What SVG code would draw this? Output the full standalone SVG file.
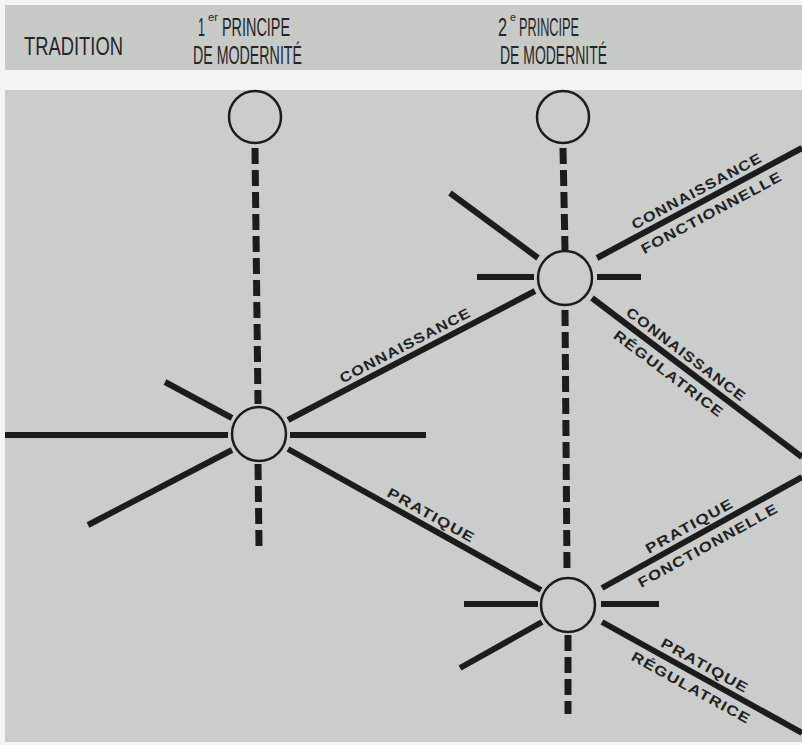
<svg xmlns="http://www.w3.org/2000/svg" width="802" height="745" viewBox="0 0 802 745">
<style>
.hd{font-family:"Liberation Sans Narrow","Liberation Sans",Arial,sans-serif;font-size:26px;fill:#262626}
.sup{font-family:"Liberation Sans Narrow","Liberation Sans",Arial,sans-serif;font-size:11px;fill:#262626}
.lb{font-family:"Liberation Sans",Arial,sans-serif;font-size:14px;font-weight:bold;letter-spacing:1px;fill:#222;text-anchor:middle}
.ln{stroke:#1c1c1c;stroke-width:6;fill:none}
.ds{stroke:#1c1c1c;stroke-width:7;stroke-dasharray:16 6;fill:none}
.nd{stroke:#1c1c1c;stroke-width:2.5;fill:none}
</style>
<rect x="0" y="0" width="802" height="745" fill="#f3f5f5"/>
<rect x="5" y="5" width="797" height="65" fill="#c7cac7"/>
<rect x="5" y="90" width="797" height="652" fill="#cacdcb"/>

<g id="header">
<text class="hd" x="24" y="55" textLength="99" lengthAdjust="spacingAndGlyphs">TRADITION</text>
<text class="hd" x="198" y="36" textLength="7" lengthAdjust="spacingAndGlyphs">1</text>
<text class="sup" x="208" y="21" textLength="10" lengthAdjust="spacingAndGlyphs">er</text>
<text class="hd" x="222" y="36" textLength="68" lengthAdjust="spacingAndGlyphs">PRINCIPE</text>
<text class="hd" x="193" y="64" textLength="109" lengthAdjust="spacingAndGlyphs">DE MODERNITÉ</text>
<text class="hd" x="498" y="36" textLength="9" lengthAdjust="spacingAndGlyphs">2</text>
<text class="sup" x="510" y="21" textLength="6" lengthAdjust="spacingAndGlyphs">e</text>
<text class="hd" x="519" y="36" textLength="60" lengthAdjust="spacingAndGlyphs">PRINCIPE</text>
<text class="hd" x="500" y="64" textLength="107" lengthAdjust="spacingAndGlyphs">DE MODERNITÉ</text>
</g>

<g id="connectors">
<line class="ds" x1="255" y1="148" x2="258" y2="404"/>
<line class="ds" x1="258" y1="464" x2="259" y2="546"/>
<line class="ds" x1="563" y1="148" x2="565" y2="250"/>
<line class="ds" x1="565" y1="310" x2="567" y2="570"/>
<line class="ds" x1="568" y1="635" x2="568" y2="714"/>

<line class="ln" x1="5" y1="435" x2="228" y2="435"/>
<line class="ln" x1="290" y1="435" x2="426" y2="435"/>
<line class="ln" x1="165" y1="382" x2="232" y2="418"/>
<line class="ln" x1="88" y1="525" x2="232" y2="450"/>
<line class="ln" x1="288" y1="420" x2="535" y2="291"/>
<line class="ln" x1="288" y1="449" x2="541" y2="590"/>

<line class="ln" x1="450" y1="193" x2="538" y2="258"/>
<line class="ln" x1="477" y1="277" x2="534" y2="277"/>
<line class="ln" x1="597" y1="277" x2="641" y2="277"/>
<line class="ln" x1="597" y1="258" x2="802" y2="148"/>
<line class="ln" x1="592" y1="298" x2="802" y2="457"/>

<line class="ln" x1="464" y1="604" x2="538" y2="604"/>
<line class="ln" x1="601" y1="604" x2="659" y2="604"/>
<line class="ln" x1="460" y1="668" x2="542" y2="622"/>
<line class="ln" x1="602" y1="588" x2="802" y2="477"/>
<line class="ln" x1="602" y1="622" x2="802" y2="733"/>

<g transform="translate(410.8,355.8) rotate(-27.6)"><text class="lb" x="0" y="-7" textLength="146" lengthAdjust="spacingAndGlyphs">CONNAISSANCE</text></g>
<g transform="translate(425.4,525.6) rotate(29.1)"><text class="lb" x="0" y="-7" textLength="98" lengthAdjust="spacingAndGlyphs">PRATIQUE</text></g>
<g transform="translate(702.3,201.5) rotate(-28.2)"><text class="lb" x="0" y="-7" textLength="146" lengthAdjust="spacingAndGlyphs">CONNAISSANCE</text></g>
<g transform="translate(704.9,200.1) rotate(-28.2)"><text class="lb" x="0" y="19" textLength="158" lengthAdjust="spacingAndGlyphs">FONCTIONNELLE</text></g>
<g transform="translate(679.1,363.9) rotate(37.1)"><text class="lb" x="0" y="-7" textLength="146" lengthAdjust="spacingAndGlyphs">CONNAISSANCE</text></g>
<g transform="translate(677.3,362.5) rotate(37.1)"><text class="lb" x="0" y="19" textLength="134" lengthAdjust="spacingAndGlyphs">RÉGULATRICE</text></g>
<g transform="translate(695.1,536.3) rotate(-29)"><text class="lb" x="0" y="-7" textLength="98" lengthAdjust="spacingAndGlyphs">PRATIQUE</text></g>
<g transform="translate(701.1,533) rotate(-29)"><text class="lb" x="0" y="19" textLength="158" lengthAdjust="spacingAndGlyphs">FONCTIONNELLE</text></g>
<g transform="translate(699.2,675.9) rotate(29)"><text class="lb" x="0" y="-7" textLength="98" lengthAdjust="spacingAndGlyphs">PRATIQUE</text></g>
<g transform="translate(698,675.3) rotate(29)"><text class="lb" x="0" y="19" textLength="134" lengthAdjust="spacingAndGlyphs">RÉGULATRICE</text></g>
</g>

<g id="node-top1"><circle class="nd" cx="255" cy="117" r="26"/></g>
<g id="node-top2"><circle class="nd" cx="563" cy="117" r="26"/></g>
<g id="node-hub1"><circle class="nd" cx="259" cy="434" r="27"/></g>
<g id="node-hub2"><circle class="nd" cx="565" cy="278" r="27"/></g>
<g id="node-hub3"><circle class="nd" cx="568" cy="605" r="27"/></g>
</svg>
